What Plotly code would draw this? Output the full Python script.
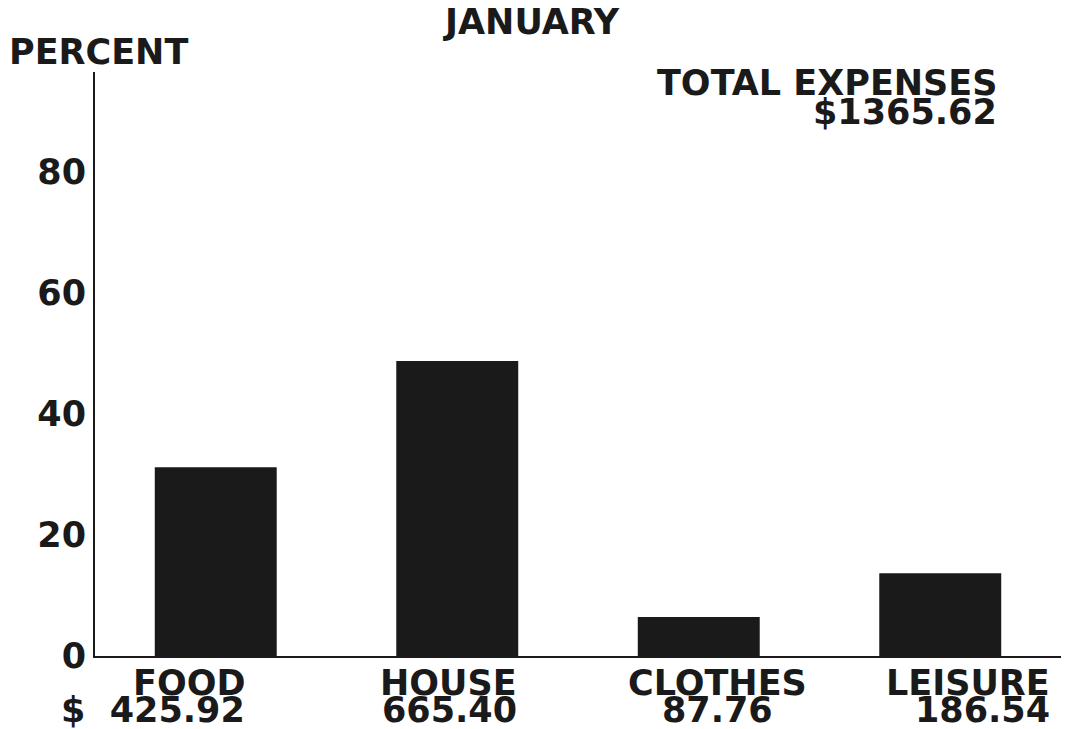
import plotly.graph_objects as go

# Monthly expense data
month = "JANUARY"
categories = ["FOOD", "HOUSE", "CLOTHES", "LEISURE"]
amounts = [425.92, 665.40, 87.76, 186.54]
y_ticks = [0, 20, 40, 60, 80]

total = sum(amounts)
percents = [a / total * 100 for a in amounts]

W, H = 1065, 729
ML, MR, MT, MB = 95, 4, 72, 73
FONT = "DejaVu Sans"
INK = "#1a1a1a"
FS = 35


def px(x, y):
    """Convert figure pixel coordinates to paper coordinates."""
    pw = W - ML - MR
    ph = H - MT - MB
    return (x - ML) / pw, 1 - (y - MT) / ph


fig = go.Figure(
    go.Bar(
        x=list(range(len(categories))),
        y=percents,
        width=0.505,
        marker=dict(color=INK, line=dict(width=0)),
        hoverinfo="skip",
    )
)

annotations = []


def label(text, x, y, anchor):
    ax, ay = px(x, y)
    annotations.append(dict(
        text=text, x=ax, y=ay, xref="paper", yref="paper",
        xanchor=anchor, yanchor="middle", showarrow=False, borderpad=0,
        font=dict(family=FONT, size=FS, color=INK, weight="bold"),
    ))


label(month, 531, 22, "center")
label("PERCENT", 8, 52, "left")
label("TOTAL EXPENSES", 998, 83, "right")
label(f"${total:.2f}", 998, 112, "right")

# category names and amounts under each bar (figure space keeps the $ column wide)
amount_text = [f"$\u2007{amounts[0]:.2f}"] + [f"{a:.2f}" for a in amounts[1:]]
placements = [(246, "right"), (518, "right"), (717, "center"), (1051, "right")]
for name, amt, (x, anchor) in zip(categories, amount_text, placements):
    label(name, x, 683, anchor)
    label(amt, x, 710, anchor)

fig.update_layout(
    width=W, height=H,
    margin=dict(l=ML, r=MR, t=MT, b=MB),
    paper_bgcolor="white", plot_bgcolor="white",
    showlegend=False,
    annotations=annotations,
    xaxis=dict(
        range=[-0.5, 3.5], showticklabels=False, showgrid=False,
        zeroline=False, showline=True, linecolor=INK, linewidth=2,
        ticks="",
    ),
    yaxis=dict(
        range=[0, 96.5], tickvals=y_ticks, ticktext=[str(v) for v in y_ticks],
        showgrid=False, zeroline=False, showline=True, linecolor=INK,
        linewidth=2, ticks="", ticklabelstandoff=0,
        tickfont=dict(family=FONT, size=FS, color=INK, weight="bold"),
    ),
)

fig.write_html("out.html")
